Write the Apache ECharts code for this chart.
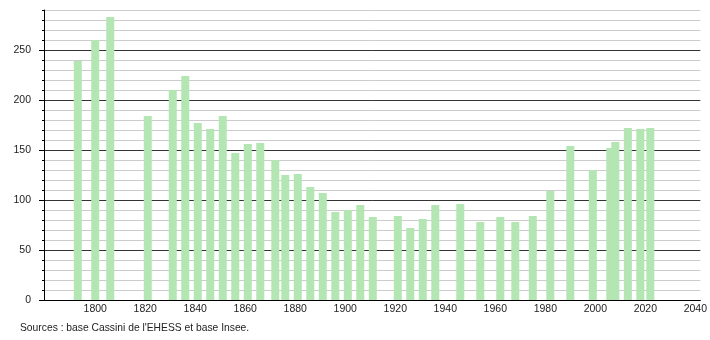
<!DOCTYPE html>
<html>
<head>
<meta charset="utf-8">
<script src="https://cdn.jsdelivr.net/npm/echarts@6/dist/echarts.min.js"></script>
<style>html,body{margin:0;padding:0;background:#fff}#c{width:710px;height:340px}</style>
</head>
<body>
<div id="c"></div>
<script>
const years = [1793,1800,1806,1821,1831,1836,1841,1846,1851,1856,1861,1866,1872,1876,1881,1886,1891,1896,1901,1906,1911,1921,1926,1931,1936,1946,1954,1962,1968,1975,1982,1990,1999,2006,2008,2013,2018,2022];
const population = [239,260,283,184,210,224,177,171,184,147,156,157,140,125,126,113,107,88,90,95,83,84,72,81,95,96,78,83,78,84,109,154,130,152,158,172,171,172];
const xTickLabels = [1800,1820,1840,1860,1880,1900,1920,1940,1960,1980,2000,2020,2040];
const yTickLabels = [0,50,100,150,200,250];
const sourceText = "Sources : base Cassini de l'EHESS et base Insee.";

const font = '"Liberation Sans", Arial, sans-serif';
const chart = echarts.init(document.getElementById('c'), null, {renderer: 'canvas'});
chart.setOption({
  animation: false,
  grid: {left: 44, right: 9, top: 10, bottom: 40, containLabel: false},
  xAxis: {
    type: 'value', min: 1779.5, max: 2042,
    axisLine: {show: true, lineStyle: {color: '#000', width: 1}},
    axisTick: {show: false},
    splitLine: {show: false},
    axisLabel: {customValues: xTickLabels, formatter: v => String(v), fontFamily: font, fontSize: 10.5, color: '#222', margin: 4}
  },
  yAxis: [{
    type: 'value', min: 0, max: 290, interval: 10, position: 'left',
    axisLine: {show: false},
    axisTick: {show: true, length: 2, lineStyle: {color: '#000'}},
    axisLabel: {show: false},
    splitLine: {show: true, lineStyle: {color: ['#333', '#ccc', '#ccc', '#ccc', '#ccc'], width: 1}}
  }, {
    type: 'value', min: 0, max: 290, position: 'left', offset: 0,
    axisLine: {show: true, lineStyle: {color: '#000', width: 1}},
    axisTick: {show: true, length: 5, customValues: yTickLabels, lineStyle: {color: '#000'}},
    axisLabel: {customValues: yTickLabels, formatter: v => String(v), fontFamily: font, fontSize: 10.5, color: '#222', margin: 13},
    splitLine: {show: false}
  }],
  series: [{
    type: 'bar', yAxisIndex: 0, barWidth: 8,
    itemStyle: {color: '#b3e6b3'},
    data: years.map((y, i) => [y, population[i]])
  }],
  graphic: [{
    type: 'text', left: 20, top: 323,
    style: {text: sourceText, font: '10.3px ' + font, fill: '#222'}
  }]
});
</script>
</body>
</html>
